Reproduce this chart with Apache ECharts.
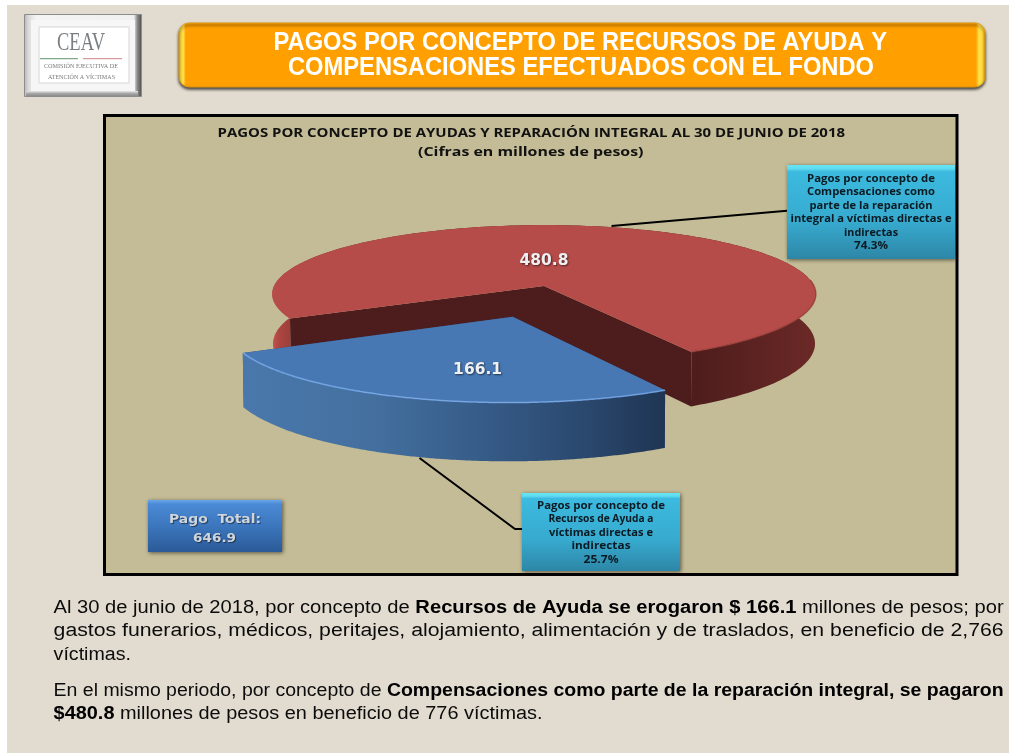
<!DOCTYPE html>
<html lang="es">
<head>
<meta charset="utf-8">
<title>Pagos por concepto de recursos de ayuda y compensaciones</title>
<style>html,body{margin:0;padding:0;background:#fff}#chart{width:1009px;height:753px}</style>
<script src="https://cdn.jsdelivr.net/npm/echarts@6/dist/echarts.min.js"></script>
</head>
<body>
<div id="chart"></div>
<script>
// ---- data ----
const categories = ['Compensaciones', 'Recursos de Ayuda'];
const values = [480.8, 166.1];
const percents = ['74.3%', '25.7%'];
const totalLabel = '646.9';
const redCallout = ['Pagos por concepto de', 'Compensaciones como', 'parte de la reparación', 'integral a víctimas directas e', 'indirectas'];
const blueCallout = ['Pagos por concepto de', 'Recursos de Ayuda a', 'víctimas directas e', 'indirectas'];
const titleLines = ['PAGOS POR CONCEPTO DE RECURSOS DE AYUDA Y', 'COMPENSACIONES EFECTUADOS CON EL FONDO'];
const chartTitle = ['PAGOS POR CONCEPTO DE AYUDAS Y REPARACIÓN INTEGRAL AL 30 DE JUNIO DE 2018', '(Cifras en millones de pesos)'];
const bodyLines = [
  [['Al 30 de junio de 2018, por concepto de ', 0], ['Recursos de Ayuda se erogaron $ 166.1', 1], [' millones de pesos; por', 0]],
  [['gastos funerarios, médicos, peritajes, alojamiento, alimentación y de traslados, en beneficio de 2,766', 0]],
  [['víctimas.', 0]],
  [['En el mismo periodo, por concepto de ', 0], ['Compensaciones como parte de la reparación integral, se pagaron', 1]],
  [['$480.8', 1], [' millones de pesos en beneficio de 776 víctimas.', 0]]
];

// ---- helpers ----
const LG = (x0, y0, x1, y1, stops) => new echarts.graphic.LinearGradient(x0, y0, x1, y1, stops.map(s => ({offset: s[0], color: s[1]})));
const mctx = document.createElement('canvas').getContext('2d');
const measure = (font, s) => { mctx.font = font; return mctx.measureText(s).width; };

// text fitted between x0 and x1, vertically centred on cy
function fit(x0, x1, cy, text, font, fill, extra) {
  const w = measure(font, text);
  return Object.assign({type: 'text', x: x0, y: cy, scaleX: (x1 - x0) / w, z: 20, silent: true,
    style: Object.assign({text, font, fill, textAlign: 'left', textVerticalAlign: 'middle'}, extra || {})});
}
// rich line with regular and bold runs
const BODY_R = '18px "Liberation Sans"';
const BODY_B = 'bold 18px "Liberation Sans"';
function bodyLine(x0, x1, cy, runs) {
  const w = runs.reduce((a, r) => a + measure(r[1] ? BODY_B : BODY_R, r[0]), 0);
  const text = runs.map(r => '{' + (r[1] ? 'b' : 'r') + '|' + r[0] + '}').join('');
  return {type: 'text', x: x0, y: cy, scaleX: (x1 - x0) / w, z: 20, silent: true,
    style: {text, textAlign: 'left', textVerticalAlign: 'middle',
      rich: {r: {font: BODY_R, fill: '#0c0c0c'}, b: {font: BODY_B, fill: '#000'}}}};
}
function box(x, y, w, h, stops, shadow, r) {
  return {type: 'rect', z: 15, silent: true, shape: {x, y, width: w, height: h, r: r || 0},
    style: {fill: LG(0, 0, 0, 1, stops), shadowBlur: 4, shadowColor: shadow || 'rgba(0,0,0,.55)', shadowOffsetY: 1, shadowOffsetX: 1}};
}
function callout(x, y, w, h, lines, pct, widths, ys) {
  const out = [box(x, y, w, h, [[0, '#66e4f5'], [0.04, '#5fdcf0'], [0.07, '#3cbadf'], [0.6, '#37aacf'], [1, '#2d86a6']])];
  const font = 'bold 10.5px "Open Sans"';
  const cx = x + w / 2;
  lines.concat([pct]).forEach((t, i) => {
    out.push(fit(cx - widths[i] / 2, cx + widths[i] / 2, ys[i], t, font, '#0b1a22'));
  });
  return out;
}

// ---- projected pie: unit circle -> perspective ellipse ----
const P = {cx: 544, cy: 286, b: 270, a: 68, k: 0.116, depth: 49, start: 29.4, explode: {u: -0.11, v: 0.43}};
const total = values.reduce((a, b) => a + b, 0);
function proj(u, v, down) {
  const w = 1 - P.k * v;
  const sx = down ? 0.997 : 1;
  return [P.cx + sx * P.b * u / w, P.cy + P.a * v / w + (down ? P.depth / w : 0)];
}
const slicePaint = [
  {top: '#b64c4a', wall: '#4d1c1c', rim: 'rgba(150,60,56,.7)',
   side: [[0, '#c9524e'], [0.012, '#ad4641'], [0.035, '#9b3e3a'], [0.1, '#6d2a28'], [0.78, '#4e1d1c'], [1, '#6b2927']],
   label: [0, -0.38]},
  {top: '#4878b3', wall: '#2c4c76', rim: 'rgba(125,175,240,.8)',
   side: [[0, '#4a78ac'], [0.3, '#44709f'], [0.55, '#375d8a'], [0.8, '#2b496f'], [1, '#1f3553']],
   label: [-0.215, 1.08]}
];
function renderSlice(params, api) {
  const i = params.dataIndex;
  const before = values.slice(0, i).reduce((a, b) => a + b, 0);
  const sweep = api.value(0) / total * 360;
  const t0 = P.start + before / total * 360;
  const off = i === 1 ? P.explode : {u: 0, v: 0};
  const paint = slicePaint[i];
  const top = [], bottom = [];
  for (let s = 0; s <= 240; s++) {
    const t = (t0 + sweep * s / 240) * Math.PI / 180;
    const u = Math.sin(t) + off.u, v = Math.cos(t) + off.v;
    top.push(proj(u, v, false));
    bottom.push(proj(u, v, true));
  }
  const apexT = proj(off.u, off.v, false), apexB = proj(off.u, off.v, true);
  const children = [];
  // cut walls first: the outer side and the top face hide what faces away
  [[top[0], bottom[0]], [top[240], bottom[240]]].forEach(e => {
    children.push({type: 'polygon', shape: {points: [apexT, e[0], e[1], apexB]}, style: {fill: paint.wall}});
  });
  children.push({type: 'polygon', shape: {points: top.concat(bottom.slice().reverse())},
    style: {fill: LG(0, 0, 1, 0, paint.side)}});
  children.push({type: 'polygon', shape: {points: [apexT].concat(top)}, style: {fill: paint.top}});
  const rimPts = top.filter((p, j) => {
    const t = (t0 + sweep * j / 240) * Math.PI / 180;
    return Math.cos(t) > -0.05;
  });
  children.push({type: 'polyline', shape: {points: i === 0 ? top.slice(0, 60) : rimPts},
    style: {fill: 'none', stroke: paint.rim, lineWidth: 1.5}});
  const lp = proj(paint.label[0], paint.label[1], false);
  children.push({type: 'text', x: lp[0], y: lp[1], z2: 5, style: {
    text: api.value(0).toFixed(1), font: 'bold 15.5px "DejaVu Sans"', fill: '#eef0f2',
    textAlign: 'center', textVerticalAlign: 'middle',
    textShadowBlur: 2, textShadowColor: 'rgba(0,0,0,.55)', textShadowOffsetX: 1, textShadowOffsetY: 1}});
  return {type: 'group', children};
}

// ---- static page furniture ----
const graphic = [
  {type: 'rect', z: -10, silent: true, shape: {x: 7, y: 5, width: 1002, height: 748}, style: {fill: '#e2dbcf'}},
  // logo
  {type: 'rect', z: -5, silent: true, shape: {x: 24.5, y: 14.5, width: 117, height: 82},
   style: {stroke: '#8c8c8c', lineWidth: 1, fill: LG(0, 0, 1, 0, [[0, '#b5b5b5'], [0.04, '#dcdcdc'], [0.1, '#f4f4f4'], [0.93, '#f0f0f0'], [0.96, '#8a8a8a'], [1, '#4a4a4a']])}},
  {type: 'rect', z: -5, silent: true, shape: {x: 26, y: 91, width: 112, height: 5}, style: {fill: LG(0, 0, 0, 1, [[0, '#e8e8e8'], [0.5, '#a8a8a8'], [1, '#8a8a8a']])}},
  {type: 'rect', z: -4, silent: true, shape: {x: 31, y: 20, width: 104, height: 71}, style: {fill: '#f6f6f6'}},
  {type: 'rect', z: -3, silent: true, shape: {x: 39, y: 27, width: 90, height: 56}, style: {fill: '#fff', stroke: '#d6d6d6', lineWidth: 1}},
  fit(57, 105, 43, 'CEAV', '25px "Liberation Serif"', '#7b7f82'),
  {type: 'rect', z: 5, silent: true, shape: {x: 40, y: 58, width: 38, height: 1.3}, style: {fill: '#7fa98a'}},
  {type: 'rect', z: 5, silent: true, shape: {x: 83, y: 58, width: 39, height: 1.3}, style: {fill: '#d59aa0'}},
  fit(44, 118, 66, 'COMISIÓN EJECUTIVA DE', '7px "Liberation Serif"', '#77797b'),
  fit(48, 115, 77, 'ATENCIÓN A VÍCTIMAS', '7px "Liberation Serif"', '#77797b'),
  // banner
  {type: 'rect', z: 1, silent: true, shape: {x: 179, y: 23, width: 806, height: 64, r: 10},
   style: {fill: LG(0, 0, 1, 0, [[0, '#e09800'], [0.002, '#ffd93a'], [0.006, '#ffe14a'], [0.009, '#ffa000'], [0.988, '#ff9f00'], [0.992, '#ffe24a'], [0.997, '#ffd93a'], [1, '#e09800']]),
     stroke: '#e29a10', lineWidth: 1, shadowBlur: 3, shadowColor: 'rgba(0,0,0,.7)', shadowOffsetY: 2}},
  fit(273.5, 887, 43, titleLines[0], 'bold 25px "Liberation Sans"', '#fff'),
  fit(288, 874, 68.5, titleLines[1], 'bold 25px "Liberation Sans"', '#fff'),
  // chart frame
  {type: 'rect', z: -2, silent: true, shape: {x: 104.5, y: 115.5, width: 852.5, height: 459}, style: {fill: '#c4bc96', stroke: '#000', lineWidth: 3}},
  fit(217.5, 845, 133, chartTitle[0], 'bold 13px "Open Sans"', '#111'),
  fit(418, 643.5, 152.5, chartTitle[1], 'bold 13px "Open Sans"', '#111'),
  // leader lines
  {type: 'polyline', z: 14, silent: true, shape: {points: [[611.5, 226], [787, 210.7]]}, style: {fill: 'none', stroke: '#000', lineWidth: 2}},
  {type: 'polyline', z: 14, silent: true, shape: {points: [[419.5, 458], [515, 529], [522, 529]]}, style: {fill: 'none', stroke: '#000', lineWidth: 2}},
  // total box
  box(148, 500, 134, 52, [[0, '#6aa6ea'], [0.08, '#4a8ad6'], [0.5, '#3c76bd'], [1, '#2b5a98']]),
  fit(169, 261, 520, 'Pago  Total:', 'bold 13px "DejaVu Sans"', '#cfd5da', {textShadowBlur: 1, textShadowColor: 'rgba(0,0,0,.5)', textShadowOffsetX: 1, textShadowOffsetY: 1}),
  fit(193, 236, 539, totalLabel, 'bold 13px "DejaVu Sans"', '#cfd5da', {textShadowBlur: 1, textShadowColor: 'rgba(0,0,0,.5)', textShadowOffsetX: 1, textShadowOffsetY: 1})
].concat(
  callout(787, 165, 168, 94, redCallout, percents[0], [128, 128, 123, 161, 54, 34], [179, 192.5, 206, 219.5, 233, 246.5]),
  callout(522, 493, 158, 78, blueCallout, percents[1], [128, 105, 104, 59, 35], [505.7, 519, 532.7, 546.3, 560.3]),
  bodyLine(53.6, 1003.6, 608, bodyLines[0]),
  bodyLine(53.6, 1003.6, 631, bodyLines[1]),
  bodyLine(53.6, 131, 655, bodyLines[2]),
  bodyLine(53.6, 1003.6, 691, bodyLines[3]),
  bodyLine(53.6, 542.5, 714, bodyLines[4])
);

const chart = echarts.init(document.getElementById('chart'), null, {renderer: 'canvas'});
chart.setOption({
  animation: false,
  backgroundColor: '#ffffff',
  graphic: {elements: graphic},
  series: [{
    type: 'custom',
    name: 'Pagos',
    coordinateSystem: 'none',
    silent: true,
    z: 5,
    data: values.map((v, i) => ({name: categories[i], value: [v]})),
    renderItem: renderSlice
  }]
});
</script>
</body>
</html>
